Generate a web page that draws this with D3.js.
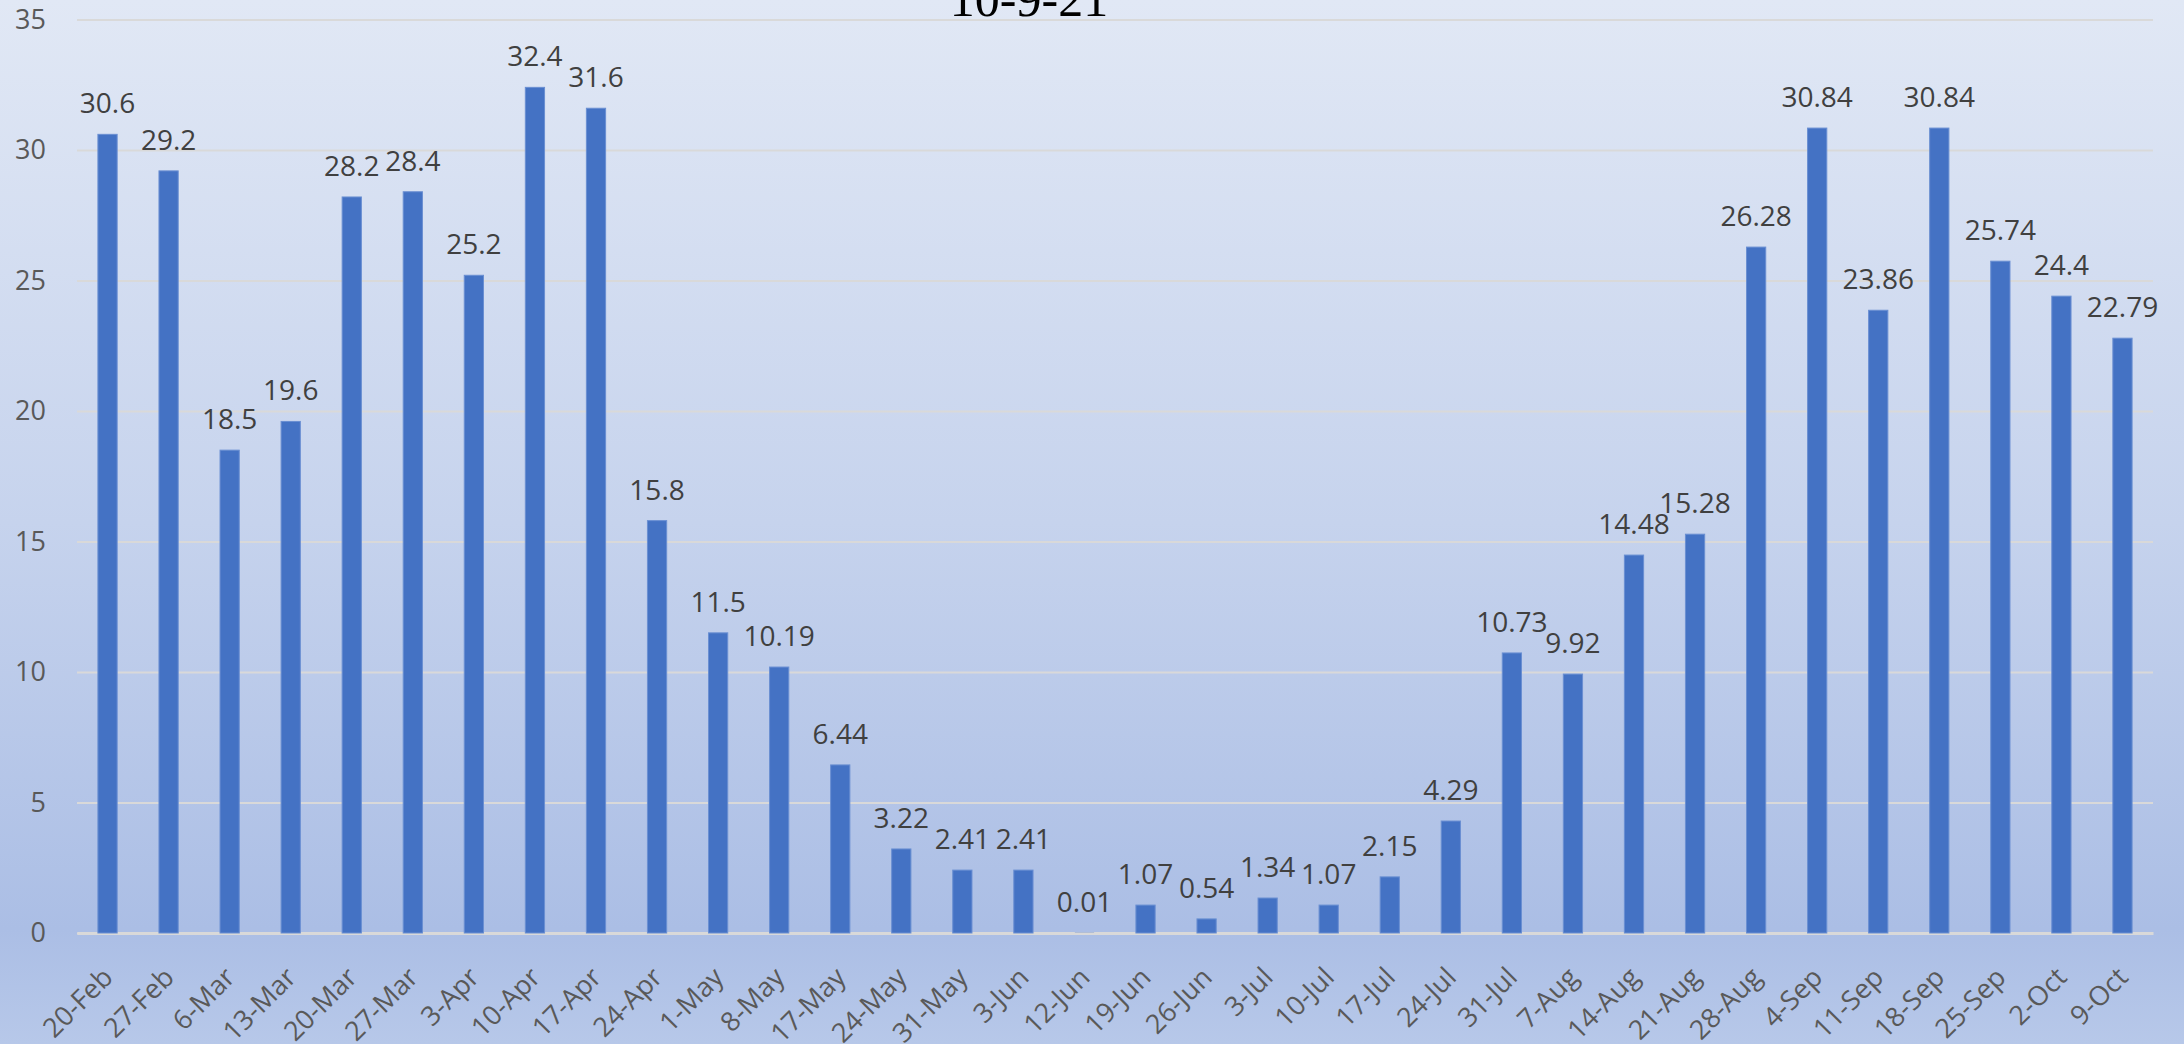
<!DOCTYPE html>
<html>
<head>
<meta charset="utf-8">
<script src="https://cdn.jsdelivr.net/npm/d3@7"></script>
<style>
  html, body { margin: 0; padding: 0; overflow: hidden; }
  #bar { width: 2184px; height: 1044px; }
</style>
</head>
<body>
<div id="bar"></div>
<script>
var weeks = ["20-Feb", "27-Feb", "6-Mar", "13-Mar", "20-Mar", "27-Mar", "3-Apr", "10-Apr",
    "17-Apr", "24-Apr", "1-May", "8-May", "17-May", "24-May", "31-May", "3-Jun", "12-Jun",
    "19-Jun", "26-Jun", "3-Jul", "10-Jul", "17-Jul", "24-Jul", "31-Jul", "7-Aug", "14-Aug",
    "21-Aug", "28-Aug", "4-Sep", "11-Sep", "18-Sep", "25-Sep", "2-Oct", "9-Oct"]
var values = [30.6, 29.2, 18.5, 19.6, 28.2, 28.4, 25.2, 32.4, 31.6, 15.8, 11.5, 10.19, 6.44,
    3.22, 2.41, 2.41, 0.01, 1.07, 0.54, 1.34, 1.07, 2.15, 4.29, 10.73, 9.92, 14.48, 15.28,
    26.28, 30.84, 23.86, 30.84, 25.74, 24.4, 22.79]
var yTicks = [0, 5, 10, 15, 20, 25, 30, 35]
var title = "10-9-21"

function barchart() {
    var width = 2184, height = 1044
    var margin = {top: 19.5, right: 31, bottom: 111, left: 77}
    var chartWidth = width - margin.left - margin.right
    var chartHeight = height - margin.top - margin.bottom

    var data = weeks.map(function (w, i) { return {week: w, value: values[i]} })

    var svg = d3.select("#bar").append("svg")
        .attr("width", width).attr("height", height)

    // background gradient
    var grad = svg.append("defs").append("linearGradient")
        .attr("id", "bg").attr("x1", 0).attr("y1", 0).attr("x2", 0).attr("y2", 1)
    grad.append("stop").attr("offset", "0%").attr("stop-color", "#e1e8f5")
    grad.append("stop").attr("offset", "50%").attr("stop-color", "#c6d3ed")
    grad.append("stop").attr("offset", "89%").attr("stop-color", "#abbee5")
    grad.append("stop").attr("offset", "100%").attr("stop-color", "#b7c8e9")
    svg.append("rect").attr("width", width).attr("height", height).attr("fill", "url(#bg)")

    var axisLayer = svg.append("g").attr("transform", "translate(" + [margin.left, margin.top] + ")")
    var chartLayer = svg.append("g").attr("transform", "translate(" + [margin.left, margin.top] + ")")

    var xScale = d3.scaleBand().domain(weeks).range([0, chartWidth])
        .paddingInner(0.685).paddingOuter(0.3425)
    var yScale = d3.scaleLinear().domain([0, 35]).range([chartHeight, 0])

    // gridlines + y labels
    var yAxis = d3.axisLeft(yScale).tickValues(yTicks).tickSize(-chartWidth).tickPadding(31)
    var gy = axisLayer.append("g").attr("class", "axis y").call(yAxis)
    gy.select(".domain").remove()
    gy.selectAll(".tick line").attr("stroke", "#d9d9d9").attr("stroke-width", 2)
    gy.selectAll(".tick text")
        .attr("fill", "#595959").style("font-family", "'Open Sans', sans-serif")
        .style("font-size", "27px")

    // x axis baseline + labels
    var xAxis = d3.axisBottom(xScale).tickSize(0)
    var gx = axisLayer.append("g").attr("class", "axis x")
        .attr("transform", "translate(0," + chartHeight + ")").call(xAxis)
    gx.select(".domain").attr("stroke", "#d9d9d9").attr("stroke-width", 3)
    gx.selectAll(".tick text")
        .attr("fill", "#595959").style("font-family", "'Open Sans', sans-serif")
        .style("font-size", "27px")
        .attr("text-anchor", "end")
        .attr("y", 0).attr("dy", 0)
        .attr("transform", "translate(7,46) rotate(-45)")

    // bars
    chartLayer.selectAll(".bar").data(data).enter().append("rect").classed("bar", true)
        .attr("x", function (d) { return xScale(d.week) })
        .attr("y", function (d) { return yScale(d.value) })
        .attr("width", xScale.bandwidth())
        .attr("height", function (d) { return chartHeight - yScale(d.value) })
        .attr("fill", "#4472c4")
        .attr("stroke", function (d) { return chartHeight - yScale(d.value) > 2 ? "#6a8fd2" : "none" })
        .attr("stroke-width", 1)

    // data labels
    chartLayer.selectAll(".lbl").data(data).enter().append("text").classed("lbl", true)
        .attr("x", function (d) { return xScale(d.week) + xScale.bandwidth() / 2 })
        .attr("y", function (d) { return yScale(d.value) - 21 })
        .attr("text-anchor", "middle")
        .attr("fill", "#404040")
        .style("font-family", "'Open Sans', sans-serif")
        .style("font-size", "28px")
        .text(function (d) { return d.value })

    // title (cut off at top)
    svg.append("text")
        .attr("x", 1029).attr("y", 16)
        .attr("text-anchor", "middle")
        .style("font-family", "'Liberation Serif', 'Times New Roman', serif")
        .style("font-size", "50px")
        .attr("fill", "#000")
        .text(title)
}
barchart()
</script>
</body>
</html>
